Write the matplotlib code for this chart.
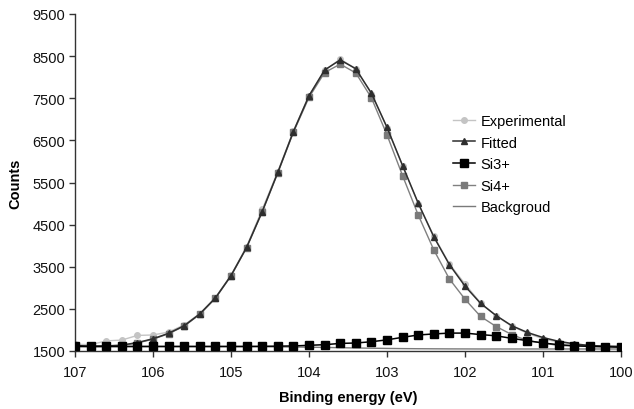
import matplotlib
matplotlib.use("Agg")
import matplotlib.pyplot as plt

plt.rcParams['font.family'] = ['Liberation Sans', 'DejaVu Sans']

# Binding energy grid (eV)
energy = [107.0, 106.8, 106.6, 106.4, 106.2, 106.0, 105.8, 105.6, 105.4, 105.2,
          105.0, 104.8, 104.6, 104.4, 104.2, 104.0, 103.8, 103.6, 103.4, 103.2,
          103.0, 102.8, 102.6, 102.4, 102.2, 102.0, 101.8, 101.6, 101.4, 101.2,
          101.0, 100.8, 100.6, 100.4, 100.2, 100.0]

experimental = [1660, 1650, 1740, 1760, 1870, 1880, 1950, 2120, 2390, 2770,
                3300, 3980, 4860, 5760, 6720, 7560, 8160, 8430, 8200, 7610,
                6800, 5900, 5000, 4230, 3570, 3090, 2640, 2330, 2090, 1920,
                1790, 1710, 1660, 1630, 1620, 1620]

fitted = [1630, 1615, 1620, 1640, 1700, 1790, 1920, 2100, 2380, 2760,
          3290, 3960, 4810, 5740, 6710, 7560, 8170, 8410, 8200, 7620,
          6810, 5900, 5010, 4210, 3550, 3040, 2630, 2340, 2100, 1940,
          1820, 1730, 1670, 1630, 1615, 1605]

si3 = [1612, 1610, 1610, 1610, 1610, 1610, 1610, 1610, 1610, 1610,
       1610, 1610, 1612, 1615, 1620, 1635, 1650, 1680, 1690, 1720,
       1765, 1825, 1880, 1905, 1925, 1925, 1890, 1860, 1800, 1745,
       1690, 1650, 1625, 1610, 1600, 1590]

si4 = [1620, 1605, 1610, 1630, 1690, 1780, 1910, 2090, 2370, 2750,
       3280, 3950, 4800, 5725, 6690, 7520, 8110, 8310, 8100, 7510,
       6630, 5660, 4730, 3900, 3210, 2730, 2320, 2080, 1890, 1745,
       1690, 1630, 1620, 1610, 1605, 1600]

background = [1600, 1600, 1600, 1600, 1600, 1600, 1600, 1600, 1600, 1600,
              1600, 1600, 1600, 1598, 1595, 1590, 1585, 1578, 1572, 1566,
              1561, 1557, 1554, 1552, 1550, 1549, 1548, 1548, 1548, 1548,
              1548, 1548, 1548, 1548, 1548, 1548]

y_ticks = [1500, 2500, 3500, 4500, 5500, 6500, 7500, 8500, 9500]
x_ticks = [107, 106, 105, 104, 103, 102, 101, 100]

fig = plt.figure(figsize=(6.34, 4.10), dpi=100)
ax = fig.add_axes([75 / 634, 58 / 410, 546 / 634, 337 / 410])

ax.plot(energy, experimental, color='#c4c4c4', lw=1.0, marker='o', ms=4,
        mfc='#c4c4c4', mec='#c4c4c4', label='Experimental', zorder=2)
ax.plot(energy, fitted, color='#2e2e2e', lw=1.1, marker='^', ms=5,
        mfc='#2e2e2e', mec='#2e2e2e', label='Fitted', zorder=4)
ax.plot(energy, si3, color='#000000', lw=1.1, marker='s', ms=5.2,
        mfc='#000000', mec='#000000', label='Si3+', zorder=5)
ax.plot(energy, si4, color='#808080', lw=1.0, marker='s', ms=4,
        mfc='#7a7a7a', mec='#7a7a7a', label='Si4+', zorder=3)
ax.plot(energy, background, color='#7a7a7a', lw=1.0, label='Backgroud', zorder=1)

ax.set_xlim(107, 100)
ax.set_ylim(1500, 9500)
ax.set_xticks(x_ticks)
ax.set_yticks(y_ticks)

for side in ('top', 'right'):
    ax.spines[side].set_visible(False)
for side in ('left', 'bottom'):
    ax.spines[side].set_color('#333333')
    ax.spines[side].set_linewidth(1.0)

ax.tick_params(axis='both', direction='out', length=4, width=1.0,
               color='#333333', labelsize=10.5, labelcolor='#111111', pad=3)
ax.tick_params(axis='x', pad=6)

ax.set_xlabel('Binding energy (eV)', fontsize=10.5, fontweight='bold', labelpad=8)
ax.set_ylabel('Counts', fontsize=10.5, fontweight='bold', labelpad=7)

ax.legend(loc='upper left', bbox_to_anchor=(453 / 634, 1 - 115 / 410),
          bbox_transform=fig.transFigure, frameon=False, fontsize=10.5,
          handlelength=1.5, handletextpad=0.4, labelspacing=0.52,
          borderaxespad=0, borderpad=0)

fig.savefig('out.png', dpi=100)
